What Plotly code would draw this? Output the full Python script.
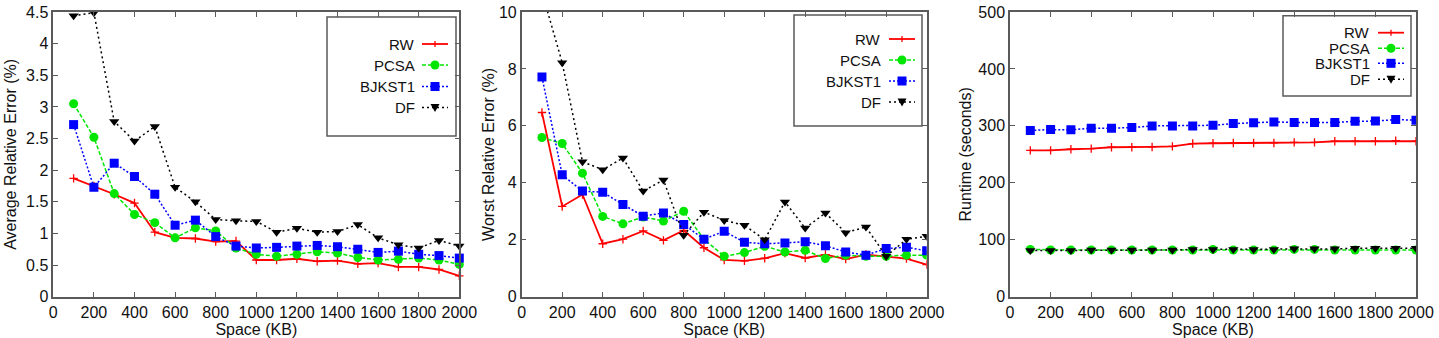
import plotly.graph_objects as go

# ---------------- data ----------------
space_kb = [100, 200, 300, 400, 500, 600, 700, 800, 900, 1000,
            1100, 1200, 1300, 1400, 1500, 1600, 1700, 1800, 1900, 2000]

series_names = ["RW", "PCSA", "BJKST1", "DF"]

avg_rw = [1.87, 1.75, 1.62, 1.48, 1.02, 0.93, 0.92, 0.87, 0.88, 0.58,
          0.58, 0.60, 0.56, 0.57, 0.52, 0.53, 0.47, 0.47, 0.43, 0.33]
avg_pcsa = [3.05, 2.52, 1.63, 1.30, 1.17, 0.93, 1.09, 1.04, 0.77, 0.67,
            0.64, 0.67, 0.71, 0.69, 0.62, 0.58, 0.59, 0.61, 0.58, 0.51]
avg_bjkst1 = [2.72, 1.73, 2.11, 1.90, 1.62, 1.13, 1.21, 0.95, 0.80, 0.77,
              0.78, 0.80, 0.81, 0.79, 0.75, 0.70, 0.72, 0.67, 0.65, 0.61]
avg_df = [4.44, 4.49, 2.77, 2.46, 2.69, 1.73, 1.50, 1.22, 1.20, 1.19,
          1.02, 1.08, 1.02, 1.03, 1.14, 0.93, 0.82, 0.77, 0.89, 0.80]

worst_rw = [6.47, 3.17, 3.59, 1.86, 2.02, 2.31, 1.98, 2.33, 1.72, 1.29,
            1.26, 1.35, 1.53, 1.36, 1.48, 1.32, 1.48, 1.40, 1.34, 1.13]
worst_pcsa = [5.59, 5.38, 4.34, 2.82, 2.56, 2.80, 2.66, 3.00, 2.02, 1.42,
              1.55, 1.77, 1.57, 1.63, 1.34, 1.46, 1.42, 1.42, 1.46, 1.46]
worst_bjkst1 = [7.72, 4.28, 3.71, 3.67, 3.24, 2.83, 2.94, 2.54, 2.02, 2.30,
                1.91, 1.86, 1.89, 1.93, 1.79, 1.57, 1.46, 1.69, 1.74, 1.61]
worst_df = [10.7, 8.22, 4.74, 4.46, 4.87, 3.71, 4.10, 2.16, 2.97, 2.68,
            2.51, 2.00, 3.33, 2.41, 2.94, 2.25, 2.45, 1.42, 2.02, 2.12]

run_rw = [257, 257, 259, 260, 262.5, 262.5, 263, 264, 269, 269.5,
          270, 270, 270, 271, 271, 273, 273, 273, 274, 273]
run_pcsa = [83, 82, 82, 82, 82, 82, 82, 82, 82, 83,
            82, 82, 82, 83, 83, 82, 82, 82, 82, 82]
run_bjkst1 = [292, 293.5, 293, 296, 296, 297, 300, 300, 300, 301,
              304, 305.5, 307, 306, 306, 306, 308, 308.5, 311, 310]
run_df = [81, 81, 81, 82, 82, 82, 82, 82, 83, 83,
          83, 83, 83, 84, 84, 84, 85, 85, 85, 85]

y_titles = ["Average Relative Error (%)", "Worst Relative Error (%)", "Runtime (seconds)"]
x_title = "Space (KB)"
x_ticks = [0, 200, 400, 600, 800, 1000, 1200, 1400, 1600, 1800, 2000]

# ---------------- styles ----------------
W, H = 1439, 338
FONT = "Liberation Sans, Arial, sans-serif"
AXIS_COL = "#5a5a5a"
TXT = "#111111"
FS = 16

COLORS = {"RW": "#ff0000", "PCSA": "#00e600", "BJKST1": "#0000ff", "DF": "#000000"}
DASHES = {"RW": "solid", "PCSA": "4px,2px", "BJKST1": "2px,2px", "DF": "2px,3px"}

styles = {
    "RW": dict(line=dict(color=COLORS["RW"], width=1.8, dash=DASHES["RW"]),
               marker=dict(symbol="cross-thin", size=6, color=COLORS["RW"],
                           line=dict(color=COLORS["RW"], width=1.3))),
    "PCSA": dict(line=dict(color=COLORS["PCSA"], width=1.5, dash=DASHES["PCSA"]),
                 marker=dict(symbol="circle", size=9, color=COLORS["PCSA"])),
    "BJKST1": dict(line=dict(color=COLORS["BJKST1"], width=1.5, dash=DASHES["BJKST1"]),
                   marker=dict(symbol="square", size=9, color=COLORS["BJKST1"])),
    "DF": dict(line=dict(color=COLORS["DF"], width=1.5, dash=DASHES["DF"]),
               marker=dict(symbol="triangle-down", size=9, color=COLORS["DF"])),
}

# legend layout (pixel positions in the page): box, text right edge, sample span, entry rows
panels = [
    dict(data=[avg_rw, avg_pcsa, avg_bjkst1, avg_df], yrange=[0, 4.5], dtick=0.5,
         xpx=(53.3, 459.3), box=(327, 456, 17, 136), clip=False, standoff=5,
         text_r=416.5, samp=(422, 448), rows=(44, 65, 86.5, 107.5)),
    dict(data=[worst_rw, worst_pcsa, worst_bjkst1, worst_df], yrange=[0, 10], dtick=2,
         xpx=(521.7, 926.7), box=(794, 922, 15, 126), clip=True, standoff=0,
         text_r=883, samp=(889, 915), rows=(39, 60, 81, 102)),
    dict(data=[run_rw, run_pcsa, run_bjkst1, run_df], yrange=[0, 500], dtick=100,
         xpx=(1010, 1416), box=(1283, 1411, 15.7, 96), clip=True, standoff=3,
         text_r=1372, samp=(1378, 1404), rows=(32.7, 48.3, 63.3, 79.3)),
]

TOP_PX, BOT_PX = 12, 296.7


def px(x):
    return x / W


def py(y):
    return 1 - y / H


def legend_marker(name, cx, cy):
    c = COLORS[name]
    r = 4.5
    if name == "RW":
        return [
            dict(type="line", xref="paper", yref="paper",
                 x0=px(cx), x1=px(cx), y0=py(cy - 3), y1=py(cy + 3),
                 line=dict(color=c, width=1.3)),
        ]
    if name == "PCSA":
        return [dict(type="circle", xref="paper", yref="paper",
                     x0=px(cx - r), x1=px(cx + r), y0=py(cy + r), y1=py(cy - r),
                     fillcolor=c, line=dict(color=c, width=0))]
    if name == "BJKST1":
        return [dict(type="rect", xref="paper", yref="paper",
                     x0=px(cx - r), x1=px(cx + r), y0=py(cy + r), y1=py(cy - r),
                     fillcolor=c, line=dict(color=c, width=0))]
    path = "M {} {} L {} {} L {} {} Z".format(
        px(cx - r), py(cy - 3.5), px(cx + r), py(cy - 3.5), px(cx), py(cy + 4.5))
    return [dict(type="path", xref="paper", yref="paper", path=path,
                 fillcolor=c, line=dict(color=c, width=0))]


fig = go.Figure()
layout = dict(
    width=W, height=H,
    margin=dict(l=0, r=0, t=0, b=0, autoexpand=False),
    paper_bgcolor="white", plot_bgcolor="white",
    font=dict(family=FONT, size=FS, color=TXT),
    showlegend=False,
    shapes=[], annotations=[],
)

for i, p in enumerate(panels):
    k = "" if i == 0 else str(i + 1)
    xa, ya = "x" + k, "y" + k
    for name, vals in zip(series_names, p["data"]):
        st = styles[name]
        fig.add_trace(go.Scatter(
            x=space_kb, y=vals, name=name, mode="lines+markers",
            line=st["line"], marker=st["marker"],
            xaxis=xa, yaxis=ya, cliponaxis=p["clip"],
        ))
    axcommon = dict(showline=True, linecolor=AXIS_COL, linewidth=1.5, mirror="ticks",
                    ticks="inside", ticklen=5, tickwidth=1.2, tickcolor=AXIS_COL,
                    showgrid=False, zeroline=False, automargin=False,
                    tickfont=dict(family=FONT, size=FS, color=TXT))
    layout["xaxis" + k] = dict(
        domain=[px(p["xpx"][0]), px(p["xpx"][1])], anchor=ya,
        range=[0, 2000], tickvals=x_ticks,
        title=dict(text=x_title, font=dict(family=FONT, size=FS, color=TXT), standoff=0),
        **axcommon)
    layout["yaxis" + k] = dict(
        domain=[py(BOT_PX), py(TOP_PX)], anchor=xa,
        range=p["yrange"], dtick=p["dtick"], tick0=0,
        title=dict(text=y_titles[i], font=dict(family=FONT, size=FS, color=TXT),
                   standoff=p["standoff"]),
        **axcommon)

    # legend box
    bx0, bx1, by0, by1 = p["box"]
    layout["shapes"].append(dict(
        type="rect", xref="paper", yref="paper",
        x0=px(bx0), x1=px(bx1), y0=py(by1), y1=py(by0),
        line=dict(color=AXIS_COL, width=1.5), fillcolor="rgba(0,0,0,0)"))
    # legend entries (gnuplot style: text right-aligned, sample on the right)
    s0, s1 = p["samp"]
    for name, ry in zip(series_names, p["rows"]):
        layout["annotations"].append(dict(
            text=name, xref="paper", yref="paper", x=px(p["text_r"]), y=py(ry),
            xanchor="right", yanchor="middle", showarrow=False,
            font=dict(family=FONT, size=15, color=TXT)))
        st = styles[name]
        layout["shapes"].append(dict(
            type="line", xref="paper", yref="paper",
            x0=px(s0), x1=px(s1), y0=py(ry), y1=py(ry),
            line=dict(color=COLORS[name], width=st["line"]["width"], dash=DASHES[name])))
        layout["shapes"].extend(legend_marker(name, (s0 + s1) / 2, ry))

fig.update_layout(**layout)
fig.write_html(
    "out.html",
    config={"displayModeBar": False},
    post_script="document.body.style.margin='0';document.body.style.overflow='hidden';",
)
